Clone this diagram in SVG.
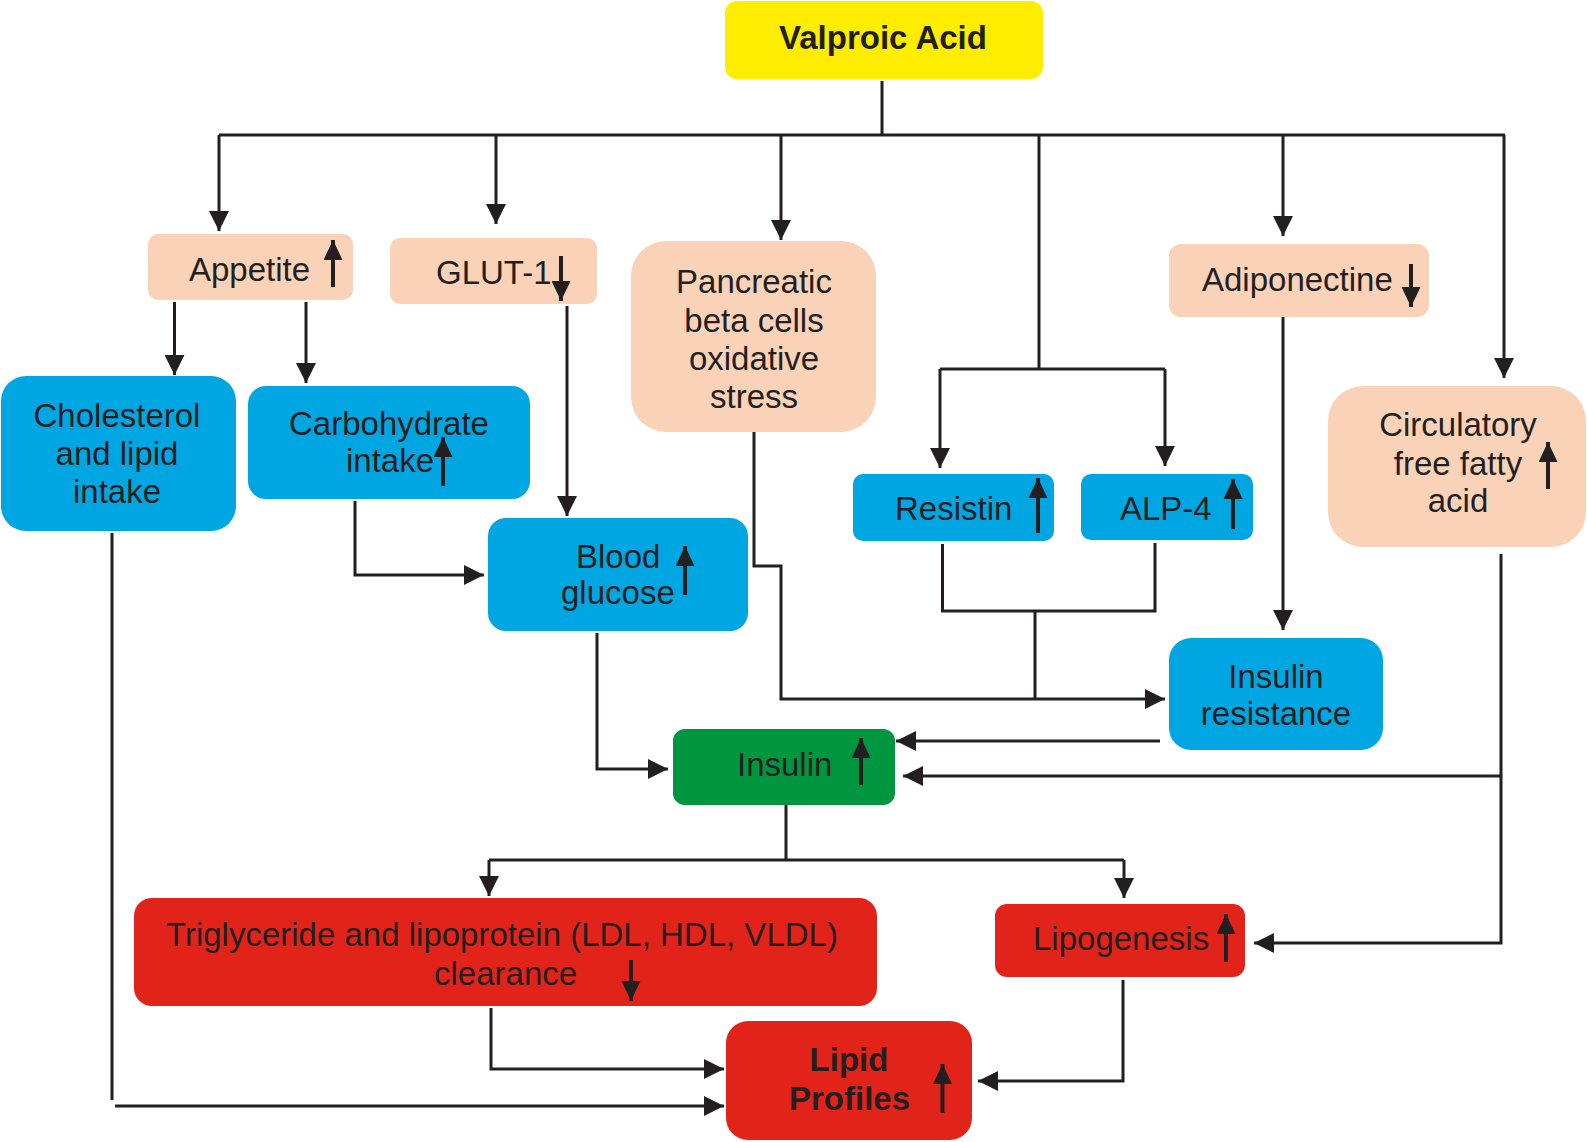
<svg xmlns="http://www.w3.org/2000/svg" width="1587" height="1142" viewBox="0 0 1587 1142">
<style>
text{font-family:"Liberation Sans",Arial,sans-serif;font-size:33px;fill:#231f20}
.b{font-weight:bold}
.m{text-anchor:middle}
.y{fill:#ffed00}.p{fill:#f9d2b8}.c{fill:#00a6e2}.g{fill:#00953f}.r{fill:#e2231a}
.cn{fill:none;stroke:#231f20;stroke-width:3}
.ar{marker-end:url(#ah)}
.ind{fill:none;stroke:#231f20;stroke-width:4;marker-end:url(#ih)}
</style>
<defs>
<marker id="ah" markerUnits="userSpaceOnUse" markerWidth="20" markerHeight="20" refX="20" refY="10" orient="auto"><path d="M0,0 L20,10 L0,20 z" fill="#231f20"/></marker>
<marker id="ih" markerUnits="userSpaceOnUse" markerWidth="20" markerHeight="19" refX="20" refY="9.5" orient="auto"><path d="M0,0 L20,9.5 L0,19 z" fill="#231f20"/></marker>
</defs>
<rect width="1587" height="1142" fill="#fff"/>
<g id="connectors">
<path class="cn" d="M882 81 V135"/>
<path class="cn" d="M219 135 H1505"/>
<path class="cn ar" d="M219 135 V231"/>
<path class="cn ar" d="M496 135 V224"/>
<path class="cn ar" d="M781 135 V240"/>
<path class="cn ar" d="M1283 135 V236"/>
<path class="cn ar" d="M1504 135 V378"/>
<path class="cn" d="M1039 135 V369 M940 369 H1165"/>
<path class="cn ar" d="M940 369 V468"/>
<path class="cn ar" d="M1165 369 V466"/>
<path class="cn ar" d="M174.5 302 V375"/>
<path class="cn ar" d="M306 302 V383"/>
<path class="cn ar" d="M567 306 V516"/>
<path class="cn ar" d="M355 501 V575 H484"/>
<path class="cn" d="M112 533 V1100"/>
<path class="cn ar" d="M115 1106 H724"/>
<path class="cn ar" d="M754 432 V566 H781 V699 H1165"/>
<path class="cn" d="M942.5 544 V611 H1155 V543 M1035 611 V699"/>
<path class="cn ar" d="M1283 317 V630"/>
<path class="cn ar" d="M597 633 V769 H668"/>
<path class="cn ar" d="M1160 741 H896"/>
<path class="cn ar" d="M1501 554 V943 H1254"/>
<path class="cn ar" d="M1501 776 H903"/>
<path class="cn" d="M786 805 V860 M489 860 H1124"/>
<path class="cn ar" d="M489 860 V896"/>
<path class="cn ar" d="M1124 860 V898"/>
<path class="cn ar" d="M491 1008 V1069 H724"/>
<path class="cn ar" d="M1123 980 V1081 H978"/>
</g>
<g id="valproic"><rect class="y" x="725" y="1" width="318" height="78" rx="12"/><text class="b m" x="883" y="49">Valproic Acid</text></g>
<g id="appetite"><rect class="p" x="148" y="234" width="205" height="66" rx="10"/><text x="189" y="281">Appetite</text><path class="ind" d="M333 287 V240"/></g>
<g id="glut1"><rect class="p" x="390" y="238" width="207" height="66" rx="10"/><text x="436" y="284">GLUT-1</text><path class="ind" d="M561 256 V301"/></g>
<g id="pancreatic"><rect class="p" x="631" y="241" width="245" height="191" rx="35"/><text class="m" x="754" y="293">Pancreatic</text><text class="m" x="754" y="332">beta cells</text><text class="m" x="754" y="370">oxidative</text><text class="m" x="754" y="408">stress</text></g>
<g id="adiponectine"><rect class="p" x="1169" y="244" width="260" height="73" rx="12"/><text x="1202" y="291">Adiponectine</text><path class="ind" d="M1411 264 V307"/></g>
<g id="cholesterol"><rect class="c" x="1" y="376" width="235" height="155" rx="25"/><text class="m" x="117" y="427">Cholesterol</text><text class="m" x="117" y="465">and lipid</text><text class="m" x="117" y="503">intake</text></g>
<g id="carbohydrate"><rect class="c" x="248" y="386" width="282" height="113" rx="18"/><text class="m" x="389" y="435">Carbohydrate</text><text x="346" y="472">intake</text><path class="ind" d="M443 486 V437"/></g>
<g id="bloodglucose"><rect class="c" x="488" y="518" width="260" height="113" rx="18"/><text x="576" y="568">Blood</text><text x="561" y="604">glucose</text><path class="ind" d="M685 595 V546"/></g>
<g id="resistin"><rect class="c" x="853" y="474" width="201" height="67" rx="10"/><text x="895" y="520">Resistin</text><path class="ind" d="M1038 533 V478"/></g>
<g id="alp4"><rect class="c" x="1081" y="474" width="172" height="66" rx="10"/><text x="1120" y="520">ALP-4</text><path class="ind" d="M1233 529 V479"/></g>
<g id="ffa"><rect class="p" x="1328" y="386" width="258" height="161" rx="35"/><text class="m" x="1458" y="436">Circulatory</text><text class="m" x="1458" y="475">free fatty</text><text class="m" x="1458" y="512">acid</text><path class="ind" d="M1548 489 V442"/></g>
<g id="insulinresistance"><rect class="c" x="1169" y="638" width="214" height="112" rx="22"/><text class="m" x="1276" y="688">Insulin</text><text class="m" x="1276" y="725">resistance</text></g>
<g id="insulin"><rect class="g" x="673" y="729" width="222" height="76" rx="12"/><text x="737" y="776">Insulin</text><path class="ind" d="M861 785 V738"/></g>
<g id="triglyceride"><rect class="r" x="134" y="898" width="743" height="108" rx="18"/><text x="166" y="946">Triglyceride and lipoprotein (LDL, HDL, VLDL)</text><text x="434" y="985">clearance</text><path class="ind" d="M631 960 V1001"/></g>
<g id="lipogenesis"><rect class="r" x="995" y="904" width="250" height="73" rx="12"/><text x="1033" y="950">Lipogenesis</text><path class="ind" d="M1226 962 V914"/></g>
<g id="lipidprofiles"><rect class="r" x="726" y="1021" width="246" height="119" rx="22"/><text class="b m" x="849" y="1071">Lipid</text><text class="b" x="789" y="1110">Profiles</text><path class="ind" d="M942.5 1113 V1064"/></g>
</svg>
